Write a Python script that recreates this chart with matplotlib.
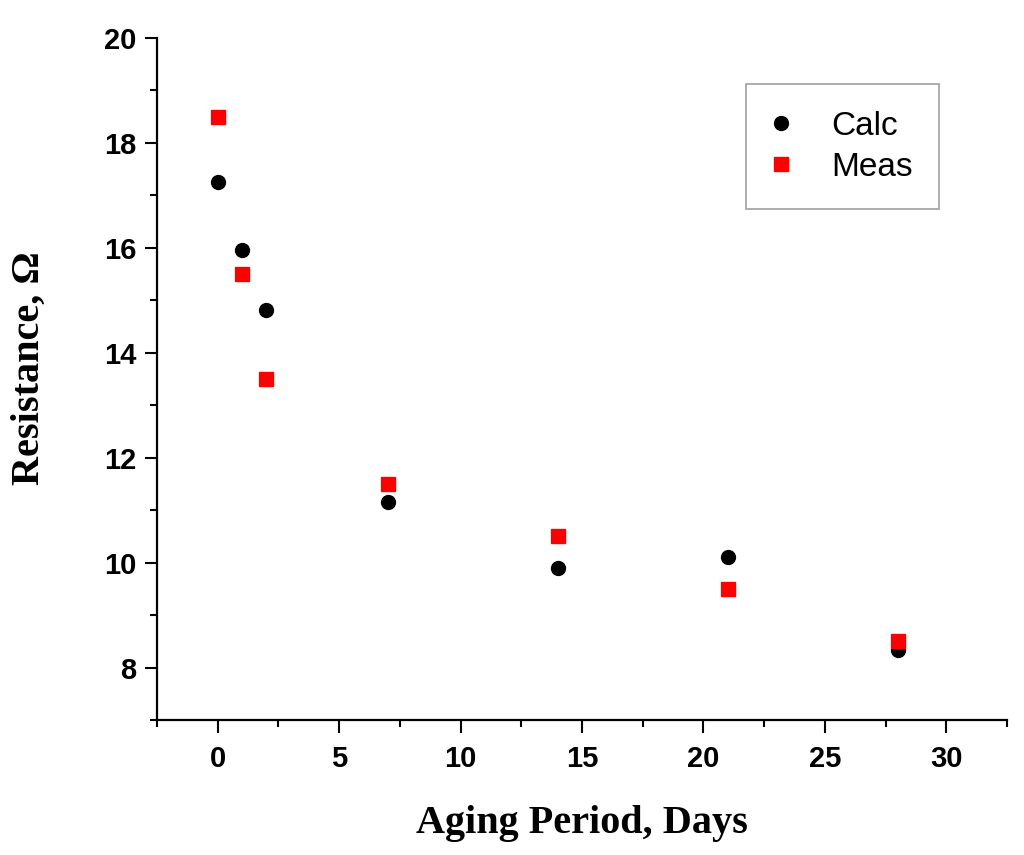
import matplotlib
matplotlib.use("Agg")
import matplotlib.pyplot as plt
from matplotlib.ticker import MultipleLocator

# Aging period (days) and resistance (ohm) values
days = [0, 1, 2, 7, 14, 21, 28]
calc_ohm = [17.25, 15.95, 14.82, 11.15, 9.90, 10.10, 8.33]
meas_ohm = [18.5, 15.5, 13.5, 11.5, 10.5, 9.5, 8.5]

plt.rcParams["font.family"] = "Liberation Sans"
plt.rcParams["font.weight"] = "bold"

fig = plt.figure(figsize=(10.24, 8.55), dpi=100)
ax = fig.add_axes([157 / 1024, 1 - 720 / 855, 850 / 1024, 682 / 855])

ax.plot(days, calc_ohm, ls="none", marker="o", ms=10, color="black", label="Calc", zorder=3)
ax.plot(days, meas_ohm, ls="none", marker="s", ms=9.5, color="red", mec="red", label="Meas", zorder=4)

ax.set_xlim(-2.5, 32.5)
ax.set_ylim(7, 20)
ax.xaxis.set_major_locator(MultipleLocator(5))
ax.xaxis.set_minor_locator(MultipleLocator(2.5))
ax.yaxis.set_major_locator(MultipleLocator(2))
ax.yaxis.set_minor_locator(MultipleLocator(1))

for side in ("top", "right"):
    ax.spines[side].set_visible(False)
for side in ("left", "bottom"):
    ax.spines[side].set_linewidth(1.6)

ax.tick_params(which="major", direction="out", length=9, width=1.5, pad=6, labelsize=21)
ax.tick_params(which="minor", direction="out", length=5, width=1.5)
ax.tick_params(axis="x", which="major", pad=9)

ax.set_xlabel("Aging Period, Days", family="Liberation Serif", weight="bold",
              fontsize=29, labelpad=23)
ax.set_ylabel("Resistance, Ω", family="Liberation Serif", weight="bold",
              fontsize=29)
ax.yaxis.set_label_coords(-0.128, 0.516)

leg = ax.legend(loc="upper left", bbox_to_anchor=((746 - 157) / 850, (720 - 84) / 682),
                prop={"family": "Liberation Sans", "weight": "normal", "size": 24},
                frameon=True, fancybox=False, edgecolor="#888888",
                handlelength=0.5, handletextpad=1.25, borderpad=0.8,
                labelspacing=0.3, borderaxespad=0, markerscale=1.0)
leg.get_frame().set_linewidth(1.2)

plt.savefig("out.png", dpi=100)
plt.close()
